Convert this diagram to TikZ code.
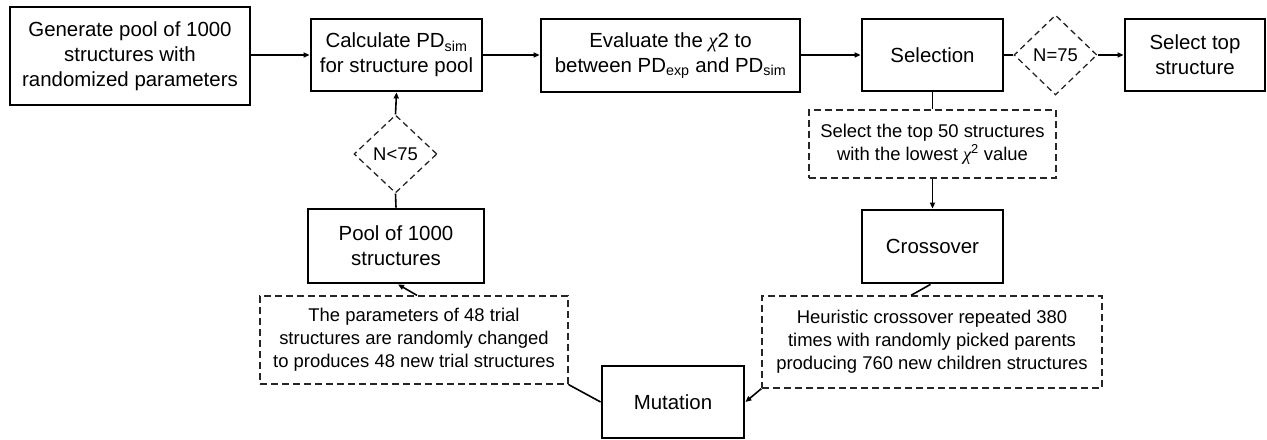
\documentclass[tikz,border=0pt]{standalone}
\usepackage{fontspec}
\setmainfont{Liberation Sans}
\newfontfamily\chifont{Liberation Serif}
\usetikzlibrary{shapes.geometric,arrows.meta}
\newcommand{\chisym}{{\chifont\itshape χ}}
\begin{document}
\begin{tikzpicture}[x=1bp,y=-1bp,
  mainbox/.style={draw=black,line width=2.8bp,rectangle,inner sep=2bp,align=center,
    font=\fontsize{20.5}{25}\selectfont},
  notebox/.style={draw=black!85,line width=1.3bp,dash pattern=on 7bp off 4bp,rectangle,inner sep=2bp,align=center,
    font=\fontsize{18.5}{23}\selectfont},
  cond/.style={draw=black!85,line width=1.3bp,dash pattern=on 6bp off 4bp,diamond,inner sep=0pt,
    font=\fontsize{18.5}{23}\selectfont},
  conn/.style={line width=1.6bp,black},
  arr/.style={conn,-{Triangle[length=6bp,width=5bp]}}]
\useasboundingbox (0,0) rectangle (1267,440);
\node[mainbox,minimum width=240bp,minimum height=98bp] (gen) at (130,56) {Generate pool of 1000\\structures with\\randomized parameters};
\node[mainbox,minimum width=171bp,minimum height=72bp] (calc) at (396.5,55) {Calculate PD\textsubscript{sim}\\for structure pool};
\node[mainbox,minimum width=259bp,minimum height=73bp] (eval) at (670.5,55.5) {Evaluate the \chisym2 to\\between PD\textsubscript{exp} and PD\textsubscript{sim}};
\node[mainbox,minimum width=141bp,minimum height=72bp] (sel) at (932.5,55) {Selection};
\node[cond,minimum width=83bp,minimum height=80bp] (deq) at (1055.5,55) {N=75};
\node[mainbox,minimum width=140bp,minimum height=72bp] (top) at (1195,55) {Select top\\structure};
\node[notebox,minimum width=247bp,minimum height=68bp] (dsel) at (932.5,144) {Select the top 50 structures\\with the lowest \chisym\textsuperscript{2} value};
\node[mainbox,minimum width=141bp,minimum height=73bp] (cross) at (932.5,246.5) {Crossover};
\node[notebox,minimum width=340bp,minimum height=92bp] (dcross) at (932,342) {Heuristic crossover repeated 380\\times with randomly picked parents\\producing 760 new children structures};
\node[mainbox,minimum width=142bp,minimum height=72bp] (mut) at (673,402) {Mutation};
\node[notebox,minimum width=308bp,minimum height=88bp] (dmut) at (414,340) {The parameters of 48 trial\\structures are randomly changed\\to produces 48 new trial structures};
\node[mainbox,minimum width=176bp,minimum height=74bp] (pool) at (396,246) {Pool of 1000\\structures};
\node[cond,minimum width=83bp,minimum height=78bp] (dlt) at (395.5,154) {N<75};

\draw[arr] (gen.east |- calc.west) -- (calc.west);
\draw[arr] (calc.east) -- (eval.west |- calc.east);
\draw[arr] (eval.east |- sel.west) -- (sel.west);
\draw[conn] (sel.east) -- (deq.west);
\draw[arr] (deq.east) -- (top.west);
\draw[conn] (sel.south) -- (dsel.north);
\draw[arr] (dsel.south) -- (cross.north);
\draw[conn] ([xshift=-2bp]cross.south) -- ([xshift=-21bp]dcross.north);
\draw[arr] (dcross.south west) -- (mut.east);
\draw[conn] (dmut.south east) -- (mut.west);
\draw[arr] ([xshift=3bp]dmut.north) -- ([xshift=2bp]pool.south);
\draw[conn] (pool.north) -- (dlt.south);
\draw[arr] (dlt.north) -- (calc.south);
\end{tikzpicture}
\end{document}
